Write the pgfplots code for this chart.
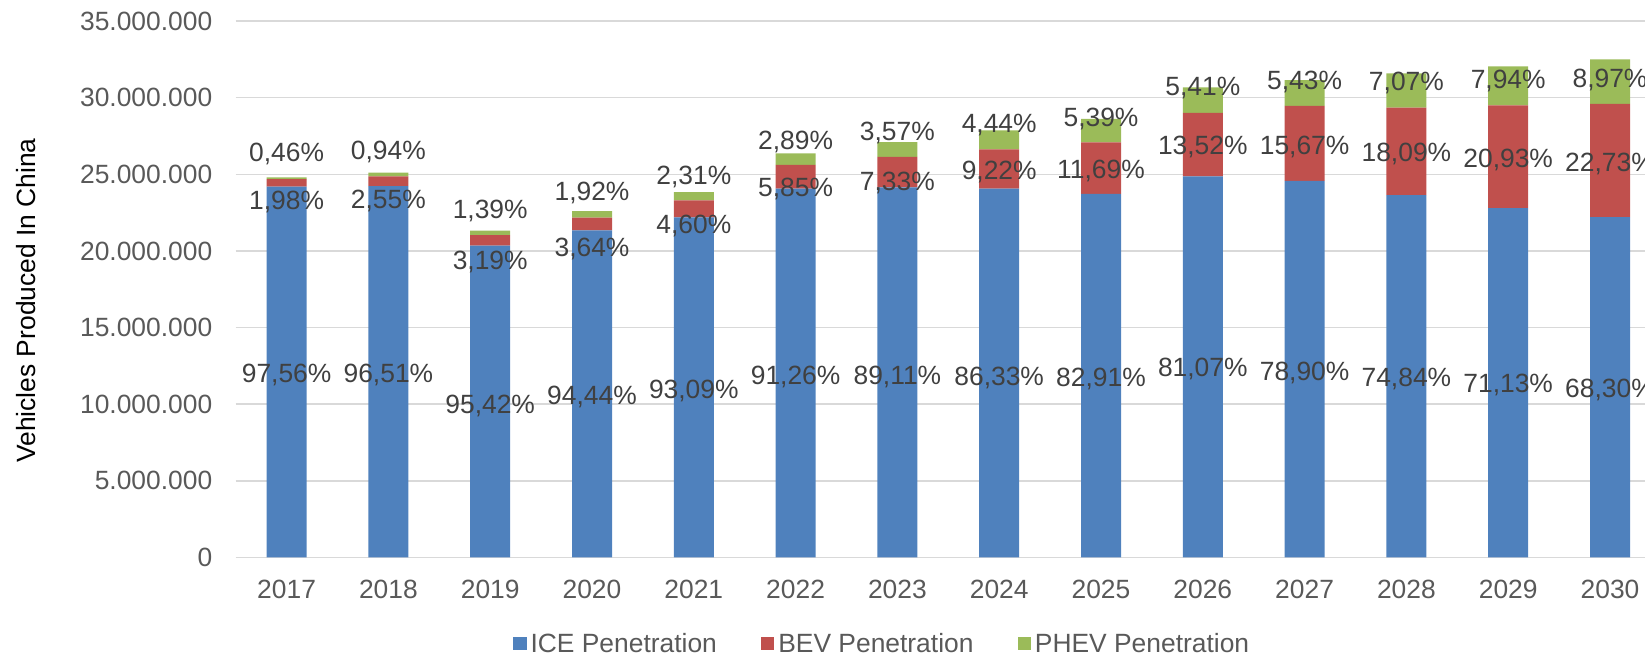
\documentclass[border=0pt]{standalone}
\usepackage{fontspec}
\setmainfont{Liberation Sans}
\usepackage{pgfplots}
\usepackage{pgfplotstable}
\pgfplotsset{compat=1.18}
\definecolor{iceblue}{HTML}{4F81BD}
\definecolor{bevred}{HTML}{C0504D}
\definecolor{phevgreen}{HTML}{9BBB59}
\definecolor{gridgray}{HTML}{D9D9D9}
\definecolor{ticktext}{HTML}{595959}
\definecolor{labeltext}{HTML}{404040}
\newcommand{\chartfont}{\fontsize{13.2pt}{15pt}\selectfont}

% vehicles produced (units)
\pgfplotstableread{
x ice bev phev
0 24195000 491000 114000
1 24224000 640000 236000
2 20344000 680000 296000
3 21343000 823000 434000
4 22193000 1097000 551000
5 24065000 1543000 762000
6 24149000 1986000 967000
7 24060000 2570000 1237000
8 23729000 3346000 1543000
9 24864000 4147000 1659000
10 24577000 4881000 1691000
11 23634000 5713000 2233000
12 22790000 6706000 2544000
13 22198000 7387000 2915000
}\proddata

% data label positions and texts
\pgfplotstableread{
x yi yb yp li lb lp
0 12020000 23320000 26410000 97,56 1,98 0,46
1 12020000 23390000 26540000 96,51 2,55 0,94
2 10010000 19360000 22710000 95,42 3,19 1,39
3 10600000 20240000 23890000 94,44 3,64 1,92
4 10970000 21750000 24950000 93,09 4,60 2,31
5 11900000 24150000 27230000 91,26 5,85 2,89
6 11900000 24560000 27820000 89,11 7,33 3,57
7 11790000 25230000 28320000 86,33 9,22 4,44
8 11750000 25320000 28750000 82,91 11,69 5,39
9 12410000 26860000 30760000 81,07 13,52 5,41
10 12120000 26860000 31150000 78,90 15,67 5,43
11 11730000 26430000 31040000 74,84 18,09 7,07
12 11360000 26040000 31190000 71,13 20,93 7,94
13 11040000 25780000 31230000 68,30 22,73 8,97
}\labeldata

\pgfplotsset{geom/.style={scale only axis, width=712.6pt, height=268.25pt,
  at={(117.85pt,49.75pt)}, anchor=south west,
  xmin=-0.5, xmax=13.5, ymin=0, ymax=35000000, enlargelimits=false}}

\begin{document}
\begin{tikzpicture}
\useasboundingbox (0,0) rectangle (822.5pt,328.5pt);
\clip (0,0) rectangle (822.5pt,328.5pt);
\begin{axis}[geom, ybar stacked, bar width=20pt,
  axis line style={draw=none},
  ymajorgrids, grid style={gridgray, line width=0.75pt},
  major tick length=0pt,
  xtick={0,1,2,3,4,5,6,7,8,9,10,11,12,13},
  xticklabels={2017,2018,2019,2020,2021,2022,2023,2024,2025,2026,2027,2028,2029,2030},
  ytick={0,5000000,10000000,15000000,20000000,25000000,30000000,35000000},
  scaled y ticks=false,
  /pgf/number format/fixed,
  /pgf/number format/1000 sep={.},
  /pgf/number format/assume math mode=true,
  xticklabel style={font=\chartfont, text=ticktext, anchor=center, yshift=-16pt},
  yticklabel style={font=\chartfont, text=ticktext, anchor=east, xshift=-8.2pt},
  ylabel={Vehicles Produced In China},
  every axis y label/.style={at={(rel axis cs:-0.1475,0.479)}, rotate=90, anchor=center, font=\chartfont, text=black, text depth=0pt},
  legend columns=3, legend cell align=left,
  legend style={at={(0.4529,-0.1612)}, anchor=center, draw=none, fill=none,
    font=\chartfont, text=ticktext, nodes={inner sep=0pt},
    /tikz/every odd column/.append style={column sep=2pt},
    /tikz/every even column/.append style={column sep=22pt}},
]
\addplot[fill=iceblue, draw=none, legend image code/.code={\fill[iceblue] (0pt,-3.2pt) rectangle (6.7pt,3.5pt);}] table[x=x, y=ice] \proddata;
\addplot[fill=bevred, draw=none, legend image code/.code={\fill[bevred] (0pt,-3.2pt) rectangle (6.7pt,3.5pt);}] table[x=x, y=bev] \proddata;
\addplot[fill=phevgreen, draw=none, legend image code/.code={\fill[phevgreen] (0pt,-3.2pt) rectangle (6.7pt,3.5pt);}] table[x=x, y=phev] \proddata;
\legend{ICE Penetration, BEV Penetration, PHEV Penetration}
\end{axis}
\begin{axis}[geom, hide axis,
  every node near coord/.append style={anchor=center, font=\chartfont, text=labeltext, text depth=0pt, inner sep=0pt}]
\addplot[draw=none, mark=none, nodes near coords={\pgfplotspointmeta\%}, point meta=explicit symbolic] table[x=x, y=yi, meta=li] \labeldata;
\addplot[draw=none, mark=none, nodes near coords={\pgfplotspointmeta\%}, point meta=explicit symbolic] table[x=x, y=yb, meta=lb] \labeldata;
\addplot[draw=none, mark=none, nodes near coords={\pgfplotspointmeta\%}, point meta=explicit symbolic] table[x=x, y=yp, meta=lp] \labeldata;
\end{axis}
\end{tikzpicture}
\end{document}
